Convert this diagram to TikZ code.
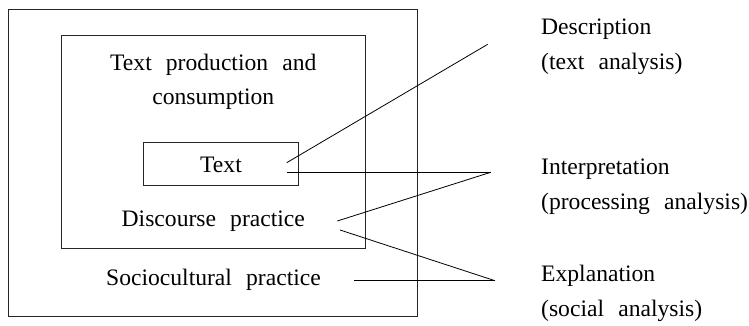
\documentclass[tikz,border=0pt]{standalone}
\usepackage{fontspec}
\setmainfont[WordSpace=2.4]{Liberation Serif}
\begin{document}
\begin{tikzpicture}[x=1pt,y=-1pt,
  box/.style={draw=black!85,line width=0.9pt,inner sep=0pt,rectangle},
  lbl/.style={anchor=base,inner sep=0pt,font=\fontsize{23.6}{28}\selectfont},
  rlbl/.style={anchor=base west,inner sep=0pt,font=\fontsize{23.6}{28}\selectfont},
  link/.style={draw=black,line width=0.8pt}]
\useasboundingbox (0,0) rectangle (749,326);
% boxes
\node[box,minimum width=409pt,minimum height=307pt] (outer) at (213,162.5) {};
\node[box,minimum width=304.7pt,minimum height=212.8pt] (middle) at (213.35,142.1) {};
\node[box,minimum width=155pt,minimum height=43.4pt] (inner) at (220.8,164) {};
% left texts
\node[lbl] (tp) at (213.3,71) {Text production and};
\node[lbl] (cons) at (213.3,105) {consumption};
\node[lbl] (txt) at (221,172.3) {Text};
\node[lbl] (dp) at (213.3,226.7) {Discourse practice};
\node[lbl] (sp) at (213.5,285.7) {Sociocultural practice};
% right texts
\node[rlbl] (desc) at (541,35) {Description};
\node[rlbl] (desc2) at (541,70) {(text analysis)};
\node[rlbl] (interp) at (541,174) {Interpretation};
\node[rlbl] (interp2) at (541,209) {(processing analysis)};
\node[rlbl] (expl) at (541,281) {Explanation};
\node[rlbl] (expl2) at (541,316) {(social analysis)};
% line end points
\coordinate (c1) at (286.7,162.7);
\coordinate (d1) at (487.7,44.3);
\coordinate (c2) at (286.7,172.3);
\coordinate (a1) at (490.7,172.3);
\coordinate (c3) at (337.3,221);
\coordinate (c4) at (340,230);
\coordinate (a2) at (495,280.7);
\coordinate (c5) at (354,280.7);
% connectors
\draw[link] (c1) -- (d1);
\draw[link] (c2) -- (a1);
\draw[link] (c3) -- (a1);
\draw[link] (c4) -- (a2);
\draw[link] (c5) -- (a2);
\end{tikzpicture}
\end{document}
